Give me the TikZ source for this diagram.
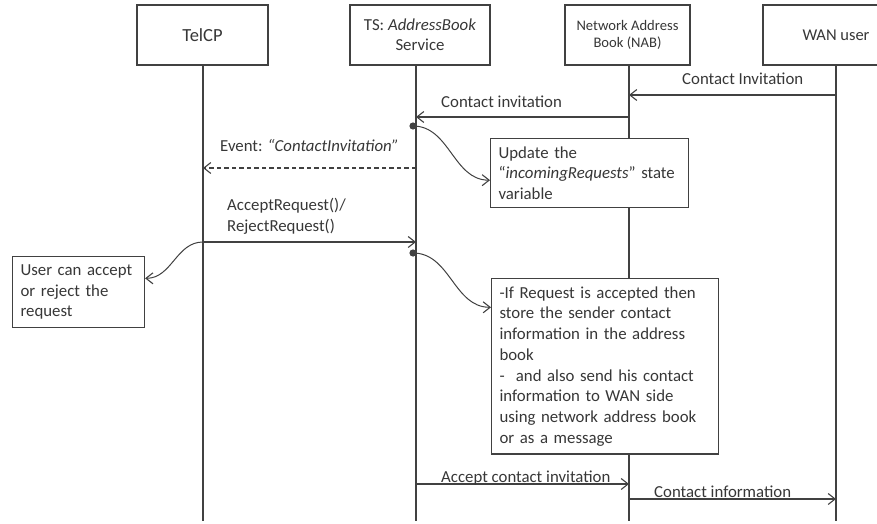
\documentclass[tikz,border=0pt]{standalone}
\usepackage{fontspec}
\setmainfont{Carlito}
\usetikzlibrary{arrows.meta,calc}
\definecolor{ink}{RGB}{55,55,55}
\definecolor{rule}{RGB}{65,65,65}
\begin{document}
\begin{tikzpicture}[x=1pt,y=-1pt,
  txt/.style={text=ink,inner sep=0pt,font=\fontsize{16.8}{20.7}\selectfont},
  head/.style={draw=rule,line width=1.1pt,fill=white,minimum height=60pt,inner sep=0pt,align=center,text=ink},
  note/.style={draw=rule,line width=1.1pt,fill=white,anchor=north west,inner xsep=8pt,inner ysep=8pt,align=left,text=ink,font=\fontsize{16.8}{20.7}\selectfont},
  life/.style={draw=rule,line width=1.1pt},
  tip/.style={-{Straight Barb[length=7pt,width=11pt,line width=1.1pt]}},
  msg/.style={life,tip},
  reply/.style={life,tip,dash pattern=on 4.5pt off 3pt},
  curv/.style={draw=rule,line width=1pt,tip}]
\useasboundingbox (0,0) rectangle (877,524);
\clip (0,0) rectangle (877,524);

% lifeline positions
\coordinate (ltel) at (203,521);
\coordinate (lts)  at (416,521);
\coordinate (lnab) at (629,521);
\coordinate (lwan) at (836,521);

% message heights
\coordinate (m1) at (0,95);
\coordinate (m2) at (0,117);
\coordinate (m3) at (0,168);
\coordinate (m4) at (0,242);
\coordinate (m5) at (0,484);
\coordinate (m6) at (0,499);

% participants
\node[head,minimum width=131pt,font=\fontsize{18.5}{22}\selectfont] (telcp) at (202.5,35) {TelCP};
\node[head,minimum width=140pt,font=\fontsize{16.8}{20}\selectfont] (ts) at (420,35) {TS: \textit{AddressBook}\\Service};
\node[head,minimum width=125pt,font=\fontsize{14.6}{16.7}\selectfont] (nab) at (627.5,35) {Network Address\\Book (NAB)};
\node[head,minimum width=146pt,font=\fontsize{16.5}{20}\selectfont] (wan) at (836,35) {WAN user};

% lifelines
\draw[life] (telcp.south -| ltel) -- (ltel);
\draw[life] (ts.south -| lts) -- (lts);
\draw[life] (nab.south -| lnab) -- (lnab);
\draw[life] (wan.south -| lwan) -- (lwan);

% messages
\draw[msg] (lwan |- m1) -- (lnab |- m1);
\node[txt,anchor=base west] (t1) at (682,85) {Contact Invitation};

\draw[msg] (lnab |- m2) -- (lts |- m2);
\node[txt,anchor=base west] (t2) at (441,107) {Contact invitation};

\draw[reply] (lts |- m3) -- (ltel |- m3);
\node[txt,anchor=base west] (t3) at (220,151) {Event: \textit{“ContactInvitation”}};

\draw[msg] (ltel |- m4) -- (lts |- m4);
\node[txt,anchor=base west,align=left] (t4) at (227,231) {AcceptRequest()/\\RejectRequest()};

\draw[msg] (lts |- m5) -- (lnab |- m5);
\node[txt,anchor=base west] (t5) at (441,482) {Accept contact invitation};

\draw[msg] (lnab |- m6) -- (lwan |- m6);
\node[txt,anchor=base west] (t6) at (654,497) {Contact information};

% notes
\node[note,text width=182pt] (upd) at (490,138) {Update the\\“\textit{incomingRequests}” state\\variable};
\node[note,text width=116pt] (usr) at (12,256) {User can accept\\or reject the\\request};
\node[note,text width=211pt] (act) at (491,278) {-If Request is accepted then\\store the sender contact\\information in the address\\book\\-~ and also send his contact\\information to WAN side\\using network address book\\or as a message};

% activation dots and note links
\coordinate (d1) at (413,126);
\coordinate (d2) at (413,253);
\fill[rule] (d1) circle (3.6pt);
\fill[rule] (d2) circle (3.6pt);
\draw[curv] (d1) to[out=0,in=180] ($(upd.north west)!0.6!(upd.south west)$);
\draw[curv] (d2) to[out=0,in=180] ($(act.north west)!0.166!(act.south west)$);
\draw[curv] (ltel |- m4) to[out=180,in=0] ($(usr.north east)!0.31!(usr.south east)$);
\end{tikzpicture}
\end{document}
